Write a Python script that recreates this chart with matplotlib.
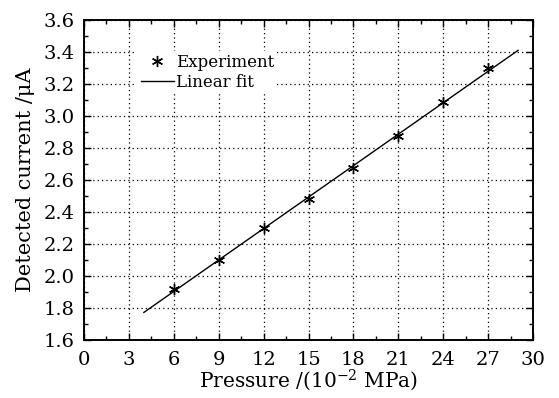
import matplotlib
matplotlib.use('Agg')
import matplotlib.pyplot as plt
import numpy as np

# measured data
pressure = [6, 9, 12, 15, 18, 21, 24, 27]
current = [1.917, 2.100, 2.302, 2.480, 2.673, 2.877, 3.085, 3.298]
fit_range = [4, 29]

plt.rcParams['font.family'] = 'DejaVu Serif'
plt.rcParams['mathtext.fontset'] = 'dejavuserif'

fig = plt.figure(figsize=(5.59, 3.98), dpi=100)
ax = fig.add_axes([0.1503, 0.1457, 0.8032, 0.804])

k, b = np.polyfit(pressure, current, 1)
xf = np.array(fit_range)
ax.plot(pressure, current, linestyle='none', marker=(6, 2, 0), markersize=8,
        color='black', markeredgewidth=1.0, label='Experiment', zorder=3)
ax.plot(xf, k * xf + b, color='black', linewidth=1.0, label='Linear fit', zorder=3)

ax.set_xlim(0, 30)
ax.set_ylim(1.6, 3.6)
ax.set_xticks(np.arange(0, 31, 3))
ax.set_yticks(np.arange(1.6, 3.61, 0.2))
ax.set_yticklabels(['%.1f' % v for v in np.arange(1.6, 3.61, 0.2)])
ax.set_xticks(np.arange(0, 30.1, 1.5), minor=True)
ax.set_yticks(np.arange(1.6, 3.61, 0.1), minor=True)
ax.tick_params(which='both', direction='in', top=True, right=True, labelsize=14, width=1.0)
ax.tick_params(which='major', length=5)
ax.tick_params(which='minor', length=3)
ax.tick_params(axis='y', which='major', pad=7)
ax.tick_params(axis='x', which='major', pad=8)
ax.grid(True, which='major', linestyle=(0, (1, 2.5)), color='black', linewidth=0.9)
for s in ax.spines.values():
    s.set_linewidth(1.4)

ax.set_xlabel('Pressure /(10$^{-2}$ MPa)', fontsize=14.5, labelpad=-1)
ax.set_ylabel('Detected current /μA', fontsize=15, labelpad=6)

leg = ax.legend(loc='upper left', bbox_to_anchor=(0.1, 0.93), fontsize=12,
                handlelength=2.0, handletextpad=0.1, borderpad=0.2,
                labelspacing=0.15, fancybox=False)
leg.get_frame().set_edgecolor('none')
leg.get_frame().set_facecolor('white')
leg.get_frame().set_alpha(1)

fig.savefig('out.png', dpi=100)
